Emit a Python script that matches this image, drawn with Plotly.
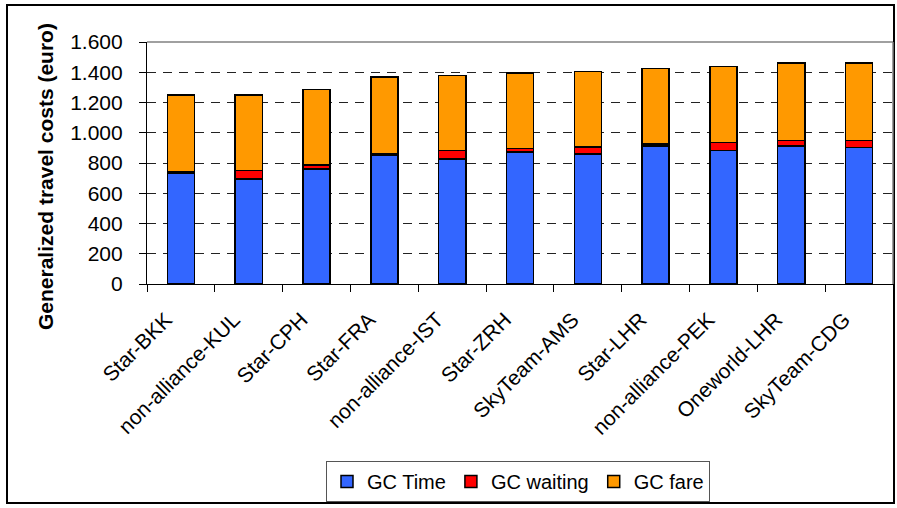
import plotly.graph_objects as go

categories = ["Star-BKK", "non-alliance-KUL", "Star-CPH", "Star-FRA", "non-alliance-IST",
              "Star-ZRH", "SkyTeam-AMS", "Star-LHR", "non-alliance-PEK", "Oneworld-LHR", "SkyTeam-CDG"]
gc_time = [730, 695, 762, 853, 826, 873, 860, 914, 882, 914, 903]
gc_waiting = [10, 55, 25, 8, 57, 22, 46, 13, 55, 36, 45]
gc_fare = [510, 500, 498, 508, 497, 500, 500, 498, 500, 511, 513]
tick_vals = [0, 200, 400, 600, 800, 1000, 1200, 1400, 1600]
tick_text = ["0", "200", "400", "600", "800", "1.000", "1.200", "1.400", "1.600"]

FONT = "Liberation Sans, Arial, sans-serif"
W, H = 897, 508
L, R, T, B = 147, 893, 42, 284  # plot area in pixels

def px(x):
    return (x - L) / (R - L)

def py(y):
    return (B - y) / (B - T)

fig = go.Figure()
for name, vals, col in [("GC Time", gc_time, "#3366FF"),
                        ("GC waiting", gc_waiting, "#FF0000"),
                        ("GC fare", gc_fare, "#FF9900")]:
    fig.add_trace(go.Bar(x=categories, y=vals, name=name,
                         marker=dict(color=col, line=dict(color="#000000", width=1.5))))

fig.update_layout(
    width=W, height=H,
    barmode="stack", bargap=0.6,
    paper_bgcolor="white", plot_bgcolor="white",
    margin=dict(l=L, r=W - R, t=T, b=H - B, autoexpand=False),
    font=dict(family=FONT, size=20, color="black"),
    showlegend=True,
    legend=dict(orientation="h", x=px(518), xanchor="center", y=py(461), yanchor="top",
                bordercolor="#555555", borderwidth=1, bgcolor="white",
                font=dict(size=20), itemwidth=30, tracegroupgap=0,
                traceorder="normal"),
    xaxis=dict(showline=True, linecolor="#000000", linewidth=1.2,
               ticks="outside", ticklen=7, tickcolor="#000000", tickson="boundaries",
               tickangle=-45, showgrid=False, tickfont=dict(size=21),
               ticklabelstandoff=14, ticklabelshift=-15),
    yaxis=dict(range=[0, 1600], tickvals=tick_vals, ticktext=tick_text,
               showline=True, linecolor="#000000", linewidth=1.2,
               ticks="outside", ticklen=7, tickcolor="#000000",
               showgrid=True, gridcolor="#222222", gridwidth=1, griddash="9px,7px",
               zeroline=False, tickfont=dict(size=21), ticklabelstandoff=12),
    shapes=[
        dict(type="line", xref="paper", yref="paper", x0=0, x1=1, y0=1, y1=1,
             line=dict(color="#808080", width=1.5), layer="above"),
        dict(type="line", xref="paper", yref="paper", x0=1, x1=1, y0=0, y1=1,
             line=dict(color="#808080", width=1.5), layer="above"),
        dict(type="rect", xref="paper", yref="paper", x0=px(7), x1=px(894), y0=py(503), y1=py(5),
             line=dict(color="#000000", width=2), layer="below"),
    ],
    annotations=[
        dict(text="<b>Generalized travel costs (euro)</b>", textangle=-90,
             xref="paper", yref="paper", x=px(45), y=py(177), xanchor="center", yanchor="middle",
             showarrow=False, font=dict(size=21, family=FONT)),
    ],
)

fig.write_html("out.html", config={"displayModeBar": False},
               post_script="document.body.style.margin='0';document.body.style.padding='0';")
